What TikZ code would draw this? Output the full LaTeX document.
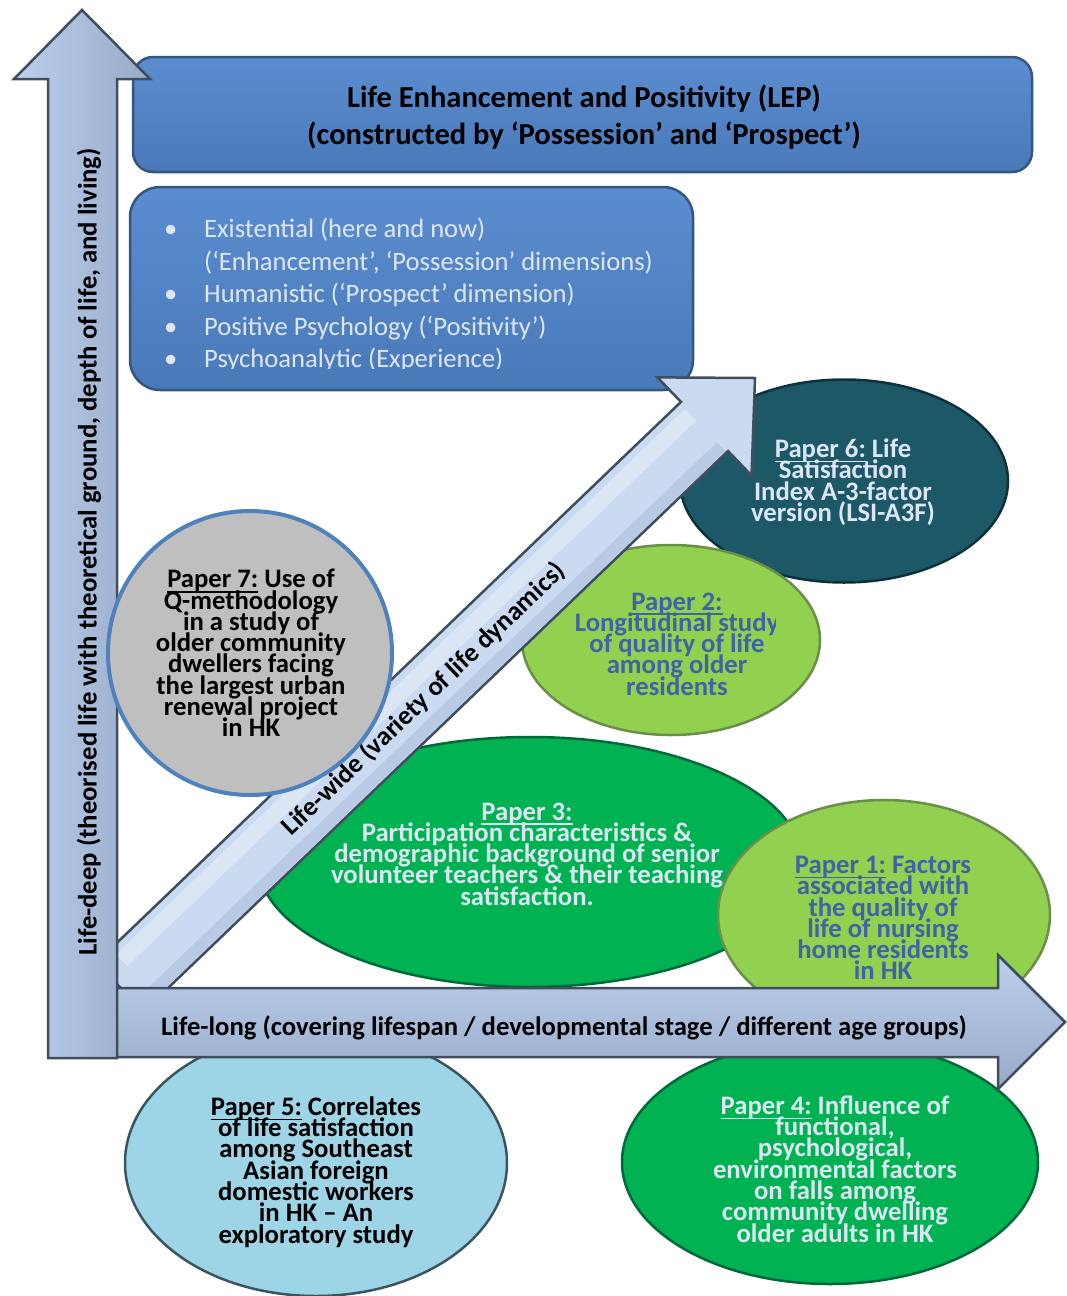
\documentclass[tikz,border=0pt]{standalone}
\usepackage{fontspec}
\setmainfont{Carlito}
\usetikzlibrary{shapes.geometric}
\definecolor{boxtop}{HTML}{5A8DD0}
\definecolor{boxbot}{HTML}{4A79B8}
\definecolor{boxedge}{HTML}{34567F}
\definecolor{arrEdge}{HTML}{3F4D5E}
\definecolor{arrFill}{HTML}{C9DAF1}
\definecolor{arrL}{HTML}{BCD0EE}
\definecolor{arrM}{HTML}{F0F5FC}
\definecolor{arrR}{HTML}{97ABC8}
\definecolor{lighttext}{HTML}{DDE7F3}
\definecolor{bluetext}{HTML}{3C64A6}
\definecolor{pSixFill}{HTML}{1D5867}
\definecolor{pSixEdge}{HTML}{0E323C}
\definecolor{limeFill}{HTML}{92D050}
\definecolor{limeEdge}{HTML}{6A8F4A}
\definecolor{grnFill}{HTML}{00B252}
\definecolor{grnEdge}{HTML}{00693A}
\definecolor{skyFill}{HTML}{9DD4E6}
\definecolor{skyEdge}{HTML}{3B5560}
\definecolor{greyFill}{HTML}{BFBFBF}
\definecolor{ringBlue}{HTML}{4F81BD}
\newcommand{\bulitem}{\makebox[40pt][l]{\textbullet}}
\newcommand{\bulgap}{\hspace*{40pt}}
\newcommand{\tightlines}{\lineskiplimit=-100pt\relax\lineskip=0pt\relax}
\newsavebox{\ulbox}
\newcommand{\papul}[1]{\sbox{\ulbox}{#1}\rlap{\rule[-5pt]{\wd\ulbox}{1.8pt}}\usebox{\ulbox}}
\begin{document}
\begin{tikzpicture}[x=1pt,y=-1pt,
  topbox/.style={draw=boxedge, line width=2.5pt, top color=boxtop, bottom color=boxbot, inner sep=0pt},
  paper/.style={ellipse, inner sep=0pt, line width=2.5pt},
  ptext/.style={align=center, inner sep=0pt, font=\bfseries\fontsize{26.7}{21.3}\selectfont\tightlines},
  arrowline/.style={draw=arrEdge, line width=2.5pt, line join=miter},
  axistext/.style={inner sep=0pt, font=\bfseries\fontsize{26.7}{28}\selectfont, text=black}]
\useasboundingbox[fill=white] (0,0) rectangle (1067,1296);

% theory boxes
\node[topbox, minimum width=899pt, minimum height=115pt, rounded corners=20pt] (lep) at (582.5,114.5) {};
\node[align=center, inner sep=0pt, font=\bfseries\fontsize{30.5}{36.5}\selectfont] (lept) at (584,117)
  {Life Enhancement and Positivity (LEP)\\(constructed by ‘Possession’ and ‘Prospect’)};
\node[topbox, minimum width=563pt, minimum height=203pt, rounded corners=30pt] (theo) at (411.5,288.5) {};
\begin{scope}
  \clip (125,185) rectangle (700,368);
  \node[anchor=west, align=left, inner sep=0pt, text=lighttext, font=\fontsize{26.6}{32.5}\selectfont] (theot) at (164,295)
  {\bulitem Existential (here and now)\\
   \bulgap(‘Enhancement’, ‘Possession’ dimensions)\\
   \bulitem Humanistic (‘Prospect’ dimension)\\
   \bulitem Positive Psychology (‘Positivity’)\\
   \bulitem Psychoanalytic (Experience)};
\end{scope}

% papers behind the diagonal arrow
\node[paper, fill=pSixFill, draw=pSixEdge, minimum width=328pt, minimum height=203pt] (p6) at (844,481) {};
\node[ptext, text=lighttext] (p6t) at (843,482) {\papul{Paper 6:} Life\\Satisfaction\\Index A-3-factor\\version (LSI-A3F)};
\node[paper, fill=limeFill, draw=limeEdge, minimum width=298pt, minimum height=190pt] (p2) at (671,640) {};
\begin{scope}
  \clip (510,540) rectangle (775,740);
  \node[ptext, text=bluetext] (p2t) at (677,644) {\papul{Paper 2:}\\Longitudinal study\\of quality of life\\among older\\residents};
\end{scope}
\node[paper, fill=grnFill, draw=grnEdge, minimum width=544pt, minimum height=250pt] (p3) at (530,862) {};
\node[ptext, text=lighttext] (p3t) at (527,854) {\papul{Paper 3:}\\Participation characteristics \&\\demographic background of senior\\volunteer teachers \& their teaching\\satisfaction.};
\node[paper, fill=limeFill, draw=limeEdge, minimum width=332pt, minimum height=230pt] (p1) at (884,915) {};
\node[ptext, text=bluetext] (p1t) at (883,918) {\papul{Paper 1:} Factors\\associated with\\the quality of\\life of nursing\\home residents\\in HK};

% diagonal arrow (life-wide)
\begin{scope}[shift={(755,378)}, rotate=43.8]
  \path[arrowline, fill=arrFill] (0,0) -- (-70,68) -- (-70,34) -- (-880,34) -- (-880,-34) -- (-70,-34) -- (-70,-68) -- cycle;
  \fill[white, opacity=0.35] (-860,-26) -- (-72,-26) -- (-72,-10) -- (-860,-10) -- cycle;
  \fill[arrR, opacity=0.3] (-860,20) -- (-72,20) -- (-72,32) -- (-860,32) -- cycle;
\end{scope}
\node[axistext, rotate=43.8] (widet) at (424,699) {Life-wide (variety of life dynamics)};

% papers below the horizontal arrow
\node[paper, fill=skyFill, draw=skyEdge, minimum width=382pt, minimum height=266pt] (p5) at (316,1163) {};
\node[ptext, text=black] (p5t) at (316,1172) {\papul{Paper 5:} Correlates\\of life satisfaction\\among Southeast\\Asian foreign\\domestic workers\\in HK – An\\exploratory study};
\node[paper, fill=grnFill, draw=grnEdge, minimum width=416pt, minimum height=244pt] (p4) at (830,1162) {};
\node[ptext, text=lighttext] (p4t) at (835,1169) {\papul{Paper 4:} Influence of\\functional,\\psychological,\\environmental factors\\on falls among\\community dwelling\\older adults in HK};

% horizontal arrow (life-long)
\path[arrowline, top color=arrL, middle color=arrM, bottom color=arrR]
  (100,988) -- (998,988) -- (998,955) -- (1065,1022) -- (998,1089) -- (998,1057) -- (100,1057) -- cycle;
\node[axistext] (longt) at (564,1028) {Life-long (covering lifespan / developmental stage / different age groups)};

% vertical arrow (life-deep)
\path[arrowline, left color=arrL, middle color=arrM, right color=arrR]
  (48,1058) -- (48,79) -- (14,79) -- (82,10) -- (150,79) -- (117,79) -- (117,1058) -- cycle;
\node[axistext, rotate=90] (deept) at (89,552) {Life-deep (theorised life with theoretical ground, depth of life, and living)};

% paper 7 circle on top
\node[circle, inner sep=0pt, fill=greyFill, draw=ringBlue, line width=4pt, minimum size=284pt] (p7) at (250,653) {};
\node[ptext, text=black] (p7t) at (251,653) {\papul{Paper 7:} Use of\\Q-methodology\\in a study of\\older community\\dwellers facing\\the largest urban\\renewal project\\in HK};
\end{tikzpicture}
\end{document}
